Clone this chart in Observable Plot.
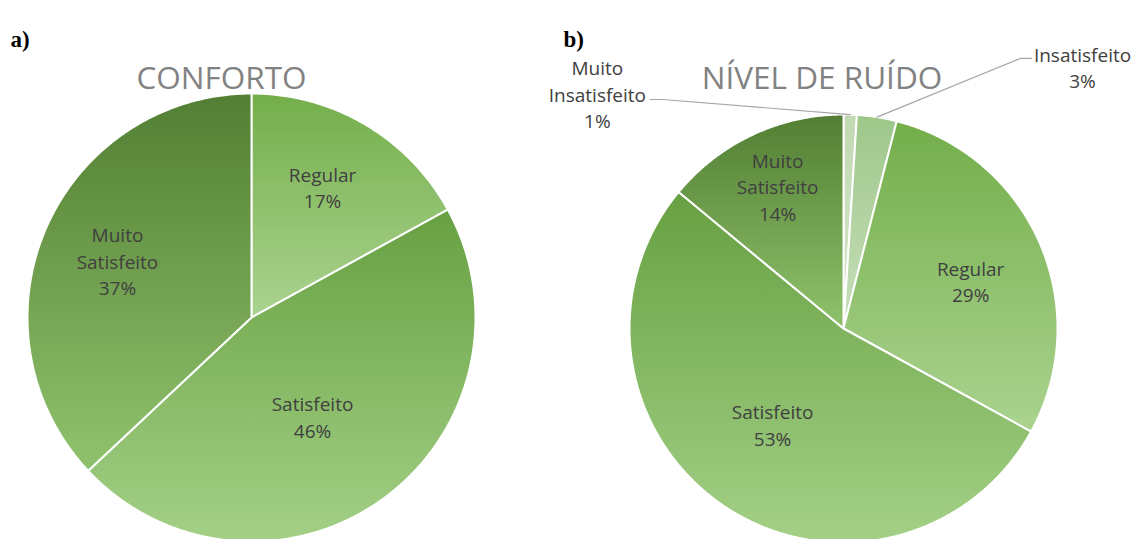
<!DOCTYPE html>
<html>
<head>
<meta charset="utf-8">
<script src="https://cdn.jsdelivr.net/npm/d3@7"></script>
<script src="https://cdn.jsdelivr.net/npm/@observablehq/plot@0.6"></script>
<style>
  body { margin: 0; background: #fff; }
  #chart { position: relative; width: 1133px; height: 539px; overflow: hidden; }
  #chart svg { position: absolute; top: 0; background: transparent; }
</style>
</head>
<body>
<div id="chart"></div>
<script>
// Survey answers (percent of respondents)
const confortoCategories = ["Regular", "Satisfeito", "Muito Satisfeito"];
const confortoValues = [17, 46, 37];

const ruidoCategories = ["Muito Insatisfeito", "Insatisfeito", "Regular", "Satisfeito", "Muito Satisfeito"];
const ruidoValues = [1, 3, 29, 53, 14];

// Slice gradients, top colour then bottom colour
const sliceColors = {
  "Muito Insatisfeito": ["#c2d9b3", "#d4e6ca"],
  "Insatisfeito": ["#9ec78a", "#c8dfba"],
  "Regular": ["#73ae4a", "#abd390"],
  "Satisfeito": ["#67a042", "#a3d086"],
  "Muito Satisfeito": ["#527f33", "#90c26d"]
};

const FONT = "'Open Sans', 'Noto Sans', sans-serif";
const TEXT = "#404040";
const HEIGHT = 539;

function sliceLabel(name, value) {
  return name.replace(" ", "\n") + "\n" + value + "%";
}

function drawPie({key, categories, values, left, width, cx, cy, r, title, titleX, tag, tagX, inside, outside}) {
  const total = d3.sum(values);
  let acc = 0;
  const slices = categories.map((name, i) => {
    const a0 = (acc / total) * 2 * Math.PI;
    acc += values[i];
    const a1 = (acc / total) * 2 * Math.PI;
    const n = Math.max(2, Math.ceil((a1 - a0) / (Math.PI / 360)));
    const points = [{x: 0, y: 0}];
    for (let k = 0; k <= n; ++k) {
      const a = a0 + ((a1 - a0) * k) / n;
      points.push({x: Math.sin(a), y: Math.cos(a)});
    }
    points.push({x: 0, y: 0});
    return {name, value: values[i], a0, a1, mid: (a0 + a1) / 2, id: `${key}-grad-${i}`, points};
  });

  // labels drawn inside their slice, at a polar position
  const insideLabels = slices.filter(s => inside[s.name]).map(s => {
    const [deg, f] = inside[s.name];
    const a = (deg * Math.PI) / 180;
    return {x: f * Math.sin(a), y: f * Math.cos(a), text: sliceLabel(s.name, s.value)};
  });

  // labels placed outside the pie, with leader lines to the slice edge
  const outsideLabels = [];
  const leaders = [];
  for (const s of slices) {
    const o = outside[s.name];
    if (!o) continue;
    outsideLabels.push({x: o.at[0], y: o.at[1], text: sliceLabel(s.name, s.value)});
    for (const [x, y] of o.path) leaders.push({name: s.name, x, y});
    leaders.push({name: s.name, x: Math.sin(s.mid), y: Math.cos(s.mid)});
  }

  const svg = Plot.plot({
    width,
    height: HEIGHT,
    margin: 0,
    x: {domain: [-cx / r, (width - cx) / r], axis: null},
    y: {domain: [-(HEIGHT - cy) / r, cy / r], axis: null},
    marks: [
      ...slices.map(s =>
        Plot.line(s.points, {x: "x", y: "y", fill: `url(#${s.id})`, stroke: "white", strokeWidth: 2, strokeLinejoin: "miter"})
      ),
      Plot.text(insideLabels, {x: "x", y: "y", text: "text", fill: TEXT, fontSize: 19, lineHeight: 1.395, fontFamily: FONT}),
      Plot.line(leaders, {x: "x", y: "y", z: "name", stroke: "#a6a6a6", strokeWidth: 1.2}),
      Plot.text(outsideLabels, {x: "x", y: "y", text: "text", fill: TEXT, fontSize: 19, lineHeight: 1.395, fontFamily: FONT}),
      Plot.text([title], {frameAnchor: "top-left", dx: titleX, dy: 66, text: d => d, textAnchor: "middle", fill: "#828282", fontSize: 31.5, fontFamily: FONT}),
      Plot.text([tag], {frameAnchor: "top-left", dx: tagX, dy: 30, text: d => d, textAnchor: "start", fill: "#000", fontSize: 23, fontWeight: "bold", fontFamily: "'Liberation Serif', 'Times New Roman', serif"})
    ]
  });

  // vertical gradient for each slice, relative to the slice's own box
  const defs = d3.create("svg:defs");
  for (const s of slices) {
    const [c0, c1] = sliceColors[s.name];
    const g = defs.append("linearGradient").attr("id", s.id).attr("x1", 0).attr("y1", 0).attr("x2", 0).attr("y2", 1);
    g.append("stop").attr("offset", "0%").attr("stop-color", c0);
    g.append("stop").attr("offset", "100%").attr("stop-color", c1);
  }
  svg.insertBefore(defs.node(), svg.firstChild);
  svg.style.left = left + "px";
  document.getElementById("chart").appendChild(svg);
}

drawPie({
  key: "conforto",
  categories: confortoCategories,
  values: confortoValues,
  left: 0, width: 550, cx: 251, cy: 317, r: 224,
  title: "CONFORTO", titleX: 221,
  tag: "a)", tagX: 10,
  inside: {"Regular": [28.5, 0.665], "Satisfeito": [148.2, 0.517], "Muito Satisfeito": [293.2, 0.651]},
  outside: {}
});

drawPie({
  key: "ruido",
  categories: ruidoCategories,
  values: ruidoValues,
  left: 550, width: 583, cx: 293, cy: 328, r: 214,
  title: "NÍVEL DE RUÍDO", titleX: 271.5,
  tag: "b)", tagX: 13,
  inside: {"Regular": [69.3, 0.635], "Satisfeito": [216.6, 0.556], "Muito Satisfeito": [335.2, 0.734]},
  outside: {
    "Muito Insatisfeito": {at: [-1.150, 1.100], path: [[-0.902, 1.070], [-0.846, 1.070]]},
    "Insatisfeito": {at: [1.117, 1.224], path: [[0.878, 1.262], [0.827, 1.262]]}
  }
});
</script>
</body>
</html>
